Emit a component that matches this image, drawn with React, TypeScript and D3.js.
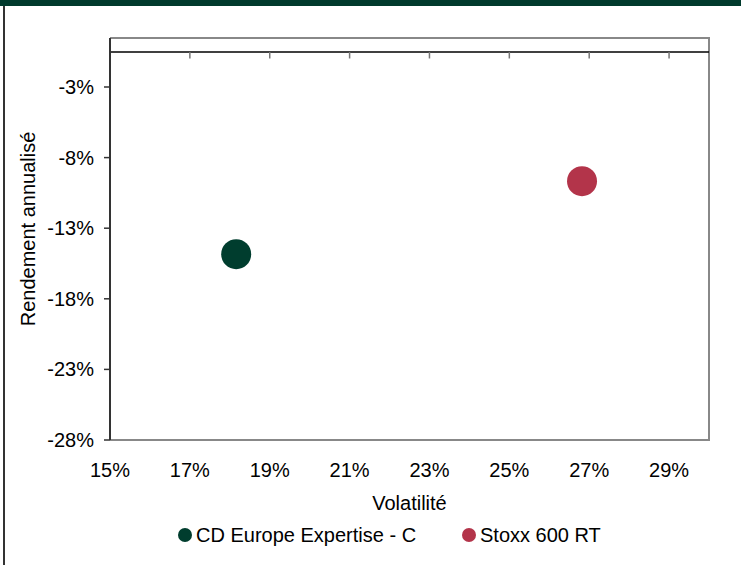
import * as d3 from "d3";

// series
const seriesNames = ["CD Europe Expertise - C", "Stoxx 600 RT"];
const volatility = [0.1816, 0.2682];
const annualReturn = [-0.1484, -0.0967];
const seriesColors = ["#003d2e", "#b3344a"];

// axes
const xTicks = [0.15, 0.17, 0.19, 0.21, 0.23, 0.25, 0.27, 0.29];
const yTicks = [-0.28, -0.23, -0.18, -0.13, -0.08, -0.03];
const xDomain = [0.15, 0.3];
const yDomain = [-0.28, 0.0047];
// the horizontal axis crosses the vertical one a bit below 0
const xAxisCross = -0.0052;

const width = 741;
const height = 565;
const plot = { left: 110, right: 709, top: 38, bottom: 440 };
const font = "Arial, 'Liberation Sans', sans-serif";
const fontSize = 20;

// plain hyphen for negatives, like the original
const pct = d3.formatLocale({
  decimal: ".",
  thousands: ",",
  grouping: [3],
  currency: ["", ""],
  minus: "-",
}).format(".0%");

export default function App() {
  const x = d3.scaleLinear(xDomain, [plot.left, plot.right]);
  const y = d3.scaleLinear(yDomain, [plot.bottom, plot.top]);
  const yCross = y(xAxisCross);

  return (
    <svg
      width={width}
      height={height}
      style={{ position: "absolute", left: 0, top: 0, background: "#fff" }}
      fontFamily={font}
      fontSize={fontSize}
    >
      {/* header band and frame */}
      <rect x={0} y={0} width={width} height={6} fill="#003a2c" />
      <line x1={4} x2={4} y1={6} y2={height} stroke="#333" strokeWidth={2} />

      {/* plot area border */}
      <path
        d={`M${plot.left},${plot.top}H${plot.right}V${plot.bottom}H${plot.left}`}
        fill="none"
        stroke="#888"
        strokeWidth={2}
      />

      {/* horizontal axis line with ticks pointing down */}
      <line x1={plot.left} x2={plot.right} y1={yCross} y2={yCross} stroke="#000" strokeWidth={1.5} />
      {xTicks.slice(1).map((t) => (
        <line key={t} x1={x(t)} x2={x(t)} y1={yCross} y2={yCross + 6.5} stroke="#777" strokeWidth={1.5} />
      ))}

      {/* vertical axis */}
      <line x1={plot.left} x2={plot.left} y1={plot.top} y2={plot.bottom} stroke="#333" strokeWidth={2} />
      {yTicks.map((t) => (
        <g key={t}>
          <line x1={plot.left - 6} x2={plot.left} y1={y(t)} y2={y(t)} stroke="#333" strokeWidth={1.5} />
          <text x={94} y={y(t)} dy="0.35em" textAnchor="end" fill="#000">
            {pct(t)}
          </text>
        </g>
      ))}

      {/* x tick labels at the bottom */}
      {xTicks.map((t) => (
        <text key={t} x={x(t)} y={477} textAnchor="middle" fill="#000">
          {pct(t)}
        </text>
      ))}

      {/* axis titles */}
      <text x={(plot.left + plot.right) / 2} y={510} textAnchor="middle" fill="#000">
        Volatilité
      </text>
      <text
        transform={`translate(35,${(plot.top + plot.bottom) / 2 - 10}) rotate(-90)`}
        textAnchor="middle"
        fill="#000"
      >
        Rendement annualisé
      </text>

      {/* points */}
      {seriesNames.map((name, i) => (
        <circle
          key={name}
          cx={x(volatility[i])}
          cy={y(annualReturn[i])}
          r={15}
          fill={seriesColors[i]}
        />
      ))}

      {/* legend */}
      {seriesNames.map((name, i) => {
        const lx = [185, 469][i];
        return (
          <g key={name}>
            <circle cx={lx} cy={535} r={7} fill={seriesColors[i]} />
            <text x={lx + 11} y={535} dy="0.35em" fill="#000">
              {name}
            </text>
          </g>
        );
      })}
    </svg>
  );
}
